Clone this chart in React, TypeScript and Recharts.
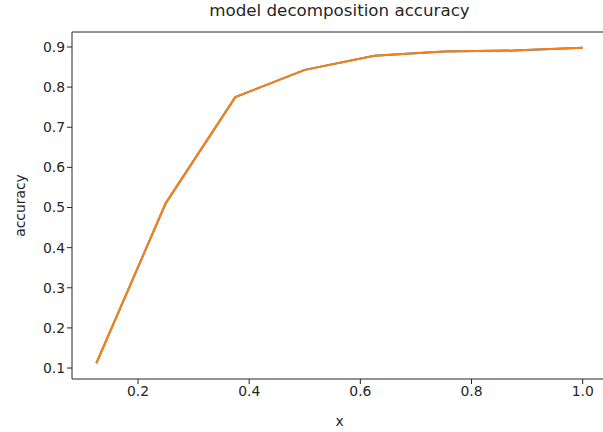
import { LineChart, Line, XAxis, YAxis } from 'recharts';

// sampled fraction of the model vs decomposition accuracy
const xValues = [0.125, 0.25, 0.375, 0.5, 0.625, 0.75, 0.875, 1.0];
const accuracyA = [0.112, 0.511, 0.775, 0.843, 0.878, 0.889, 0.891, 0.898];
const accuracyB = [0.112, 0.511, 0.775, 0.843, 0.878, 0.889, 0.891, 0.898];
const xTicks = [0.2, 0.4, 0.6, 0.8, 1.0];
const yTicks = [0.1, 0.2, 0.3, 0.4, 0.5, 0.6, 0.7, 0.8, 0.9];

const data = xValues.map((x, i) => ({ x, a: accuracyA[i], b: accuracyB[i] }));

// matplotlib-style 5% margins
const pad = (lo: number, hi: number): [number, number] => {
  const m = (hi - lo) * 0.05;
  return [lo - m, hi + m];
};
const xDomain = pad(Math.min(...xValues), Math.max(...xValues));
const yDomain = pad(
  Math.min(...accuracyA, ...accuracyB),
  Math.max(...accuracyA, ...accuracyB)
);

const font = 'DejaVu Sans, sans-serif';
const ink = '#262626';
const tick = { fill: ink, fontSize: 13.9, fontFamily: font };

export default function App() {
  return (
    <div
      style={{
        position: 'absolute',
        left: 0,
        top: 0,
        width: 603,
        height: 432,
        overflow: 'hidden',
        background: '#fff',
      }}
    >
      <LineChart
        width={611}
        height={432}
        data={data}
        margin={{ left: 0, right: 4, top: 0, bottom: 0 }}
      >
        <XAxis
          xAxisId="top"
          orientation="top"
          dataKey="x"
          type="number"
          domain={xDomain}
          height={32}
          tick={false}
          tickLine={false}
          axisLine={{ stroke: ink, strokeWidth: 1 }}
          label={{
            value: 'model decomposition accuracy',
            position: 'insideTop',
            offset: 4,
            style: { fill: ink, fontSize: 16.7, fontFamily: font },
          }}
        />
        <XAxis
          dataKey="x"
          type="number"
          domain={xDomain}
          ticks={xTicks}
          tickFormatter={(v: number) => v.toFixed(1)}
          height={53}
          tick={tick}
          tickLine={{ stroke: ink }}
          tickSize={5}
          axisLine={{ stroke: ink, strokeWidth: 1 }}
          label={{
            value: 'x',
            position: 'insideBottom',
            offset: 6,
            style: { fill: ink, fontSize: 13.9, fontFamily: font },
          }}
        />
        <YAxis
          type="number"
          domain={yDomain}
          ticks={yTicks}
          tickFormatter={(v: number) => v.toFixed(1)}
          width={72}
          tick={tick}
          tickLine={{ stroke: ink }}
          tickSize={5}
          axisLine={{ stroke: ink, strokeWidth: 1 }}
          label={{
            value: 'accuracy',
            angle: -90,
            position: 'insideLeft',
            offset: 20,
            style: { fill: ink, fontSize: 13.9, fontFamily: font, textAnchor: 'middle' },
          }}
        />
        <Line
          dataKey="a"
          stroke="#1f77b4"
          strokeWidth={2}
          dot={false}
          isAnimationActive={false}
        />
        <Line
          dataKey="b"
          stroke="#ff7f0e"
          strokeWidth={2}
          dot={false}
          isAnimationActive={false}
        />
      </LineChart>
    </div>
  );
}
